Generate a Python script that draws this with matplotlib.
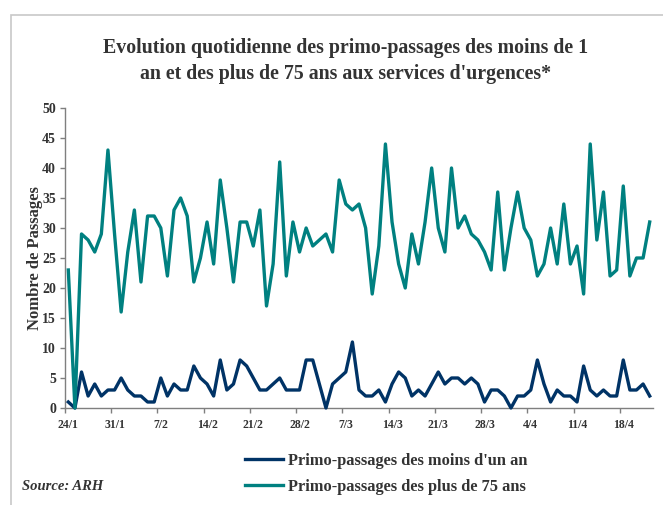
import matplotlib

matplotlib.use("Agg")
import matplotlib.pyplot as plt  # noqa: E402
import numpy as np  # noqa: E402
from matplotlib.patches import Rectangle  # noqa: E402

# daily first visits, 24/1 -> 22/4 (89 days)
moins_un_an = [
    1, 0, 6, 2, 4, 2, 3, 3, 5, 3, 2, 2, 1, 1, 5, 2, 4, 3, 3, 7,
    5, 4, 2, 8, 3, 4, 8, 7, 5, 3, 3, 4, 5, 3, 3, 3, 8, 8, 4, 0,
    4, 5, 6, 11, 3, 2, 2, 3, 1, 4, 6, 5, 2, 3, 2, 4, 6, 4, 5, 5,
    4, 5, 4, 1, 3, 3, 2, 0, 2, 2, 3, 8, 4, 1, 3, 2, 2, 1, 7, 3,
    2, 3, 2, 2, 8, 3, 3, 4, 2,
]
plus_75_ans = [
    23, 0, 29, 28, 26, 29, 43, 29, 16, 26, 33, 21, 32, 32, 30, 22, 33, 35, 32, 21,
    25, 31, 24, 38, 30, 21, 31, 31, 27, 33, 17, 24, 41, 22, 31, 26, 30, 27, 28, 29,
    26, 38, 34, 33, 34, 30, 19, 27, 44, 31, 24, 20, 29, 24, 31, 40, 30, 26, 40, 30,
    32, 29, 28, 26, 23, 36, 23, 30, 36, 30, 28, 22, 24, 30, 24, 34, 24, 27, 19, 44,
    28, 36, 22, 23, 37, 22, 25, 25, 31,
]
week_labels = ["24/1", "31/1", "7/2", "14/2", "21/2", "28/2", "7/3",
               "14/3", "21/3", "28/3", "4/4", "11/4", "18/4"]

NAVY = "#003366"
TEAL = "#008080"
AXIS = "#7f7f7f"
TXT = "#333333"

plt.rcParams["font.family"] = ["Liberation Serif", "DejaVu Serif"]
plt.rcParams["font.weight"] = "bold"

W, H = 663, 505
fig = plt.figure(figsize=(W / 100, H / 100), dpi=100)
ax = fig.add_axes([65 / W, 97 / H, 588 / W, 300 / H])

x = np.arange(len(plus_75_ans))
l1, = ax.plot(x, moins_un_an, color=NAVY, lw=2.4, clip_on=False, zorder=3)
l2, = ax.plot(x, plus_75_ans, color=TEAL, lw=2.4, clip_on=False, zorder=3)

ax.set_xlim(-0.5, len(x) - 0.5)
ax.set_ylim(0, 50)

# tick marks sit between days, labels centred on the day
week_pos = np.arange(len(week_labels)) * 7
ax.set_xticks(week_pos - 0.5)
ax.set_xticklabels([])
ax.set_xticks(week_pos, minor=True)
ax.set_xticklabels(week_labels, minor=True, fontsize=8.5, fontweight="bold", color=TXT)
ax.tick_params(axis="x", which="major", direction="out", length=3.5, color=AXIS, width=1)
ax.tick_params(axis="x", which="minor", length=0, pad=8)

ax.set_yticks(np.arange(0, 51, 5))
ax.tick_params(axis="y", direction="out", length=3.5, color=AXIS, width=1, pad=3,
               labelsize=10, labelcolor=TXT)
for t in ax.get_yticklabels():
    t.set_fontweight("bold")

for s in ("top", "right"):
    ax.spines[s].set_visible(False)
for s in ("left", "bottom"):
    ax.spines[s].set_color(AXIS)
    ax.spines[s].set_linewidth(1)

fig.text(35 / W, 1 - 258 / H, "Nombre de Passages", rotation=90, ha="center", va="center",
         fontsize=12, fontweight="bold", color=TXT)

fig.text(346 / W, 1 - 61 / H,
         "Evolution quotidienne des primo-passages des moins de 1\n"
         "an et des plus de 75 ans aux services d'urgences*",
         ha="center", va="center", fontsize=14.3, fontweight="bold", color=TXT,
         linespacing=1.45)

fig.legend([l1, l2], ["Primo-passages des moins d'un an", "Primo-passages des plus de 75 ans"],
           loc="center left", bbox_to_anchor=(245 / W, 1 - 474 / H), frameon=False,
           prop={"family": "Liberation Serif", "weight": "bold", "size": 11.8},
           labelcolor=TXT, handlelength=2.3, handletextpad=0.3, labelspacing=0.6,
           borderaxespad=0, borderpad=0)

fig.text(22 / W, 1 - 487 / H, "Source: ARH", ha="left", va="center", fontsize=10.5,
         fontweight="bold", fontstyle="italic", color=TXT)

fig.add_artist(Rectangle((10.5 / W, -0.1), 1.2, 1.1 - 15 / H, transform=fig.transFigure,
                         fill=False, edgecolor="#c8c8c8", lw=1.2))

fig.savefig("out.png", dpi=100)
